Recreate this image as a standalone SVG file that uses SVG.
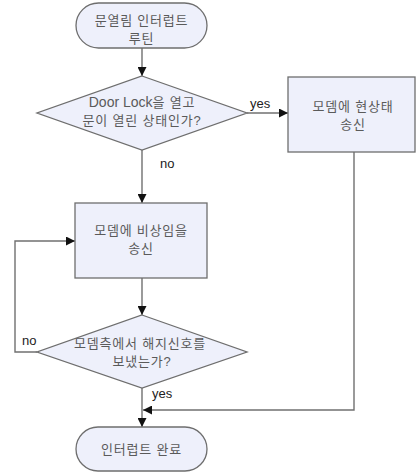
<svg xmlns="http://www.w3.org/2000/svg" width="416" height="473" viewBox="0 0 416 473">
  <style>
    .shape { fill: #eef0fb; stroke: #6e6e6e; stroke-width: 1.3; }
    .label { font-family: "Liberation Sans", "Noto Sans CJK KR", sans-serif; font-size: 13px; letter-spacing: 0.8px; fill: #5a5a5a; text-anchor: middle; }
    .latin { letter-spacing: 0; font-size: 14px; }
    .edge-label { font-family: "Liberation Sans", "Noto Sans CJK KR", sans-serif; font-size: 13px; fill: #222222; }
    .wire { fill: none; stroke: #707070; stroke-width: 1.4; }
  </style>
  <defs>
    <marker id="arrow" viewBox="0 0 10 10" refX="10" refY="5" markerWidth="9" markerHeight="9" markerUnits="userSpaceOnUse" orient="auto">
      <path d="M0,0 L10,5 L0,10 Z" fill="#111111"/>
    </marker>
  </defs>
  <rect width="416" height="473" fill="#ffffff"/>

  <!-- connectors -->
  <g id="connectors">
    <path class="wire" d="M142,48 V76" marker-end="url(#arrow)"/>
    <path class="wire" d="M247,113 H288" marker-end="url(#arrow)"/>
    <path class="wire" d="M142,150 V203" marker-end="url(#arrow)"/>
    <path class="wire" d="M142,278 V315" marker-end="url(#arrow)"/>
    <path class="wire" d="M37,352 H15 V241 H75" marker-end="url(#arrow)"/>
    <path class="wire" d="M142,388 V427" marker-end="url(#arrow)"/>
    <path class="wire" d="M354,152 V410 H143" marker-end="url(#arrow)"/>
    <text class="edge-label" x="250" y="108">yes</text>
    <text class="edge-label" x="160" y="168">no</text>
    <text class="edge-label" x="22" y="345">no</text>
    <text class="edge-label" x="152" y="398">yes</text>
  </g>

  <!-- start terminal -->
  <g id="start">
    <rect class="shape" x="76" y="3" width="131" height="45" rx="22.5" ry="22.5"/>
    <text class="label" x="141.5" y="25">문열림 인터럽트</text>
    <text class="label" x="141.5" y="43">루틴</text>
  </g>

  <!-- decision: door open -->
  <g id="door-check">
    <polygon class="shape" points="142,76 247,113 142,150 37,113"/>
    <text class="label" x="142" y="107"><tspan class="latin">Door Lock</tspan>을 열고</text>
    <text class="label" x="142" y="125">문이 열린 상태인가?</text>
  </g>

  <!-- send current state -->
  <g id="send-state">
    <rect class="shape" x="288" y="77" width="127" height="75"/>
    <text class="label" x="353" y="111">모뎀에 현상태</text>
    <text class="label" x="353" y="129">송신</text>
  </g>

  <!-- send emergency -->
  <g id="send-emergency">
    <rect class="shape" x="75" y="203" width="132" height="75"/>
    <text class="label" x="141" y="235">모뎀에 비상임을</text>
    <text class="label" x="141" y="253">송신</text>
  </g>

  <!-- decision: release signal -->
  <g id="release-check">
    <polygon class="shape" points="142,315 247,352 142,388 37,352"/>
    <text class="label" x="140" y="348">모뎀측에서 해지신호를</text>
    <text class="label" x="142" y="366">보냈는가?</text>
  </g>

  <!-- end terminal -->
  <g id="end">
    <rect class="shape" x="76" y="427" width="131" height="44" rx="22" ry="22"/>
    <text class="label" x="141.5" y="454">인터럽트 완료</text>
  </g>
</svg>
